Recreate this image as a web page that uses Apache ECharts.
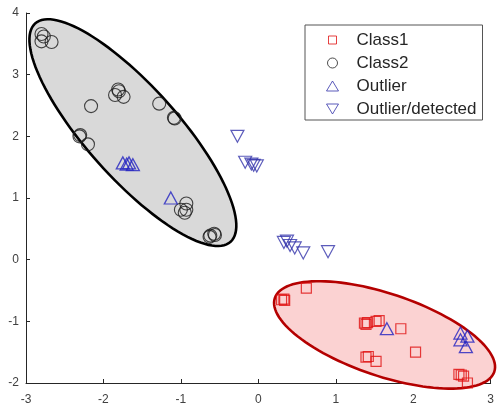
<!DOCTYPE html>
<html>
<head>
<meta charset="utf-8">
<script src="https://cdn.jsdelivr.net/npm/echarts@6/dist/echarts.min.js"></script>
<style>html,body{margin:0;padding:0;background:#fff;}#c{width:497px;height:410px;}</style>
</head>
<body>
<div id="c"></div>
<script>
// ---- data ----
var xTicks = [-3, -2, -1, 0, 1, 2, 3];
var yTicks = [-2, -1, 0, 1, 2, 3, 4];
var seriesNames = ['Class1', 'Class2', 'Outlier', 'Outlier/detected'];
var class1 = [[0.30,-0.65],[0.34,-0.66],[0.33,-0.64],[0.62,-0.46],[1.37,-1.03],[1.41,-1.02],[1.39,-1.05],[1.52,-1.00],[1.56,-0.99],[1.84,-1.12],[2.03,-1.50],[1.39,-1.58],[1.42,-1.57],[1.52,-1.65],[2.59,-1.86],[2.62,-1.87],[2.65,-1.89],[2.70,-2.00]];
var class2 = [[-2.80,3.66],[-2.77,3.62],[-2.80,3.54],[-2.67,3.53],[-2.16,2.49],[-1.81,2.76],[-1.80,2.73],[-1.85,2.67],[-1.74,2.64],[-1.28,2.53],[-1.09,2.30],[-1.08,2.29],[-2.30,2.02],[-2.31,2.00],[-2.20,1.87],[-0.93,0.91],[-1.00,0.81],[-0.93,0.81],[-0.95,0.76],[-0.62,0.39],[-0.57,0.42],[-0.63,0.37],[-0.56,0.40]];
var outlier = [[-1.75,1.57],[-1.70,1.55],[-1.67,1.57],[-1.62,1.54],[-1.13,1.00],[1.66,-1.12],[2.61,-1.19],[2.70,-1.24],[2.61,-1.30],[2.68,-1.41]];
var outlierDetected = [[-0.27,2.00],[-0.17,1.58],[-0.09,1.55],[-0.06,1.53],[-0.02,1.52],[0.33,0.28],[0.37,0.30],[0.41,0.23],[0.47,0.19],[0.58,0.11],[0.90,0.13]];
// ellipses: centre, semi-axis vectors (data units)
var ellipseCenters = [[-1.62, 2.06], [1.63, -1.22]];
var ellipseAxisA = [[1.262, -1.770], [1.417, -0.597]];
var ellipseAxisB = [[-0.438, -0.499], [-0.167, -0.634]];

// ---- chart ----
var ellipseStyles = [
  {fill:'#d9d9d9', stroke:'#000000', lineWidth:2.6},
  {fill:'#fbd2d2', stroke:'#b40000', lineWidth:2.6}
];
var ellipseData = ellipseCenters.map(function(c, i){
  return [c[0], c[1], ellipseAxisA[i][0], ellipseAxisA[i][1], ellipseAxisB[i][0], ellipseAxisB[i][1]];
});
var downTri = 'path://M0,0 L20,0 L10,18 Z';
var font = 'Liberation Sans, Arial, Helvetica, sans-serif';
var blue = '#2222c0';
var blue2 = '#3333aa';
var red = '#e01010';
var chart = echarts.init(document.getElementById('c'), null, {renderer:'canvas'});
var axisCommon = {
  type:'value', interval:1,
  axisLine:{show:true, onZero:false, lineStyle:{color:'#262626', width:1}},
  axisTick:{show:true, inside:true, length:4, lineStyle:{color:'#262626'}},
  splitLine:{show:false},
  axisLabel:{color:'#404040', fontSize:12, fontFamily:font}
};
chart.setOption({
  animation:false,
  backgroundColor:'#fff',
  grid:{left:26, right:3, top:13, bottom:27},
  xAxis: Object.assign({}, axisCommon, {min:xTicks[0], max:xTicks[xTicks.length-1], axisLabel:Object.assign({}, axisCommon.axisLabel, {margin:11})}),
  yAxis: Object.assign({}, axisCommon, {min:yTicks[0], max:yTicks[yTicks.length-1], axisLabel:Object.assign({}, axisCommon.axisLabel, {margin:7})}),
  legend:{
    orient:'vertical', left:305, top:25, padding:[5,6,1,21],
    itemWidth:38, itemHeight:12, itemGap:3,
    backgroundColor:'#fff', borderColor:'#555', borderWidth:1,
    textStyle:{fontSize:17, fontFamily:font, color:'#262626', lineHeight:20},
    data:[
      {name:seriesNames[0], icon:'path://M0,0 M12,12 M2,2 L10,2 L10,10 L2,10 Z', itemStyle:{color:'transparent', borderColor:red, borderWidth:1}},
      {name:seriesNames[1], icon:'path://M0,0 M12,12 M11,6 A5,5 0 1 1 1,6 A5,5 0 1 1 11,6 Z', itemStyle:{color:'transparent', borderColor:'#222', borderWidth:1}},
      {name:seriesNames[2], icon:'path://M0,0 M12,12 M6,1 L12,11 L0,11 Z', itemStyle:{color:'transparent', borderColor:blue2, borderWidth:1}},
      {name:seriesNames[3], icon:'path://M0,0 M12,12 M0,1 L12,1 L6,11 Z', itemStyle:{color:'transparent', borderColor:blue2, borderWidth:1}}
    ]
  },
  series:[
    {
      type:'custom', z:1, silent:true, clip:false,
      data:ellipseData,
      renderItem:function(params, api){
        var i = params.dataIndex;
        var cx = api.value(0), cy = api.value(1), ax = api.value(2), ay = api.value(3), bx = api.value(4), by = api.value(5);
        var pts = [];
        for (var k = 0; k < 120; k++) {
          var t = k / 120 * Math.PI * 2;
          pts.push(api.coord([cx + Math.cos(t)*ax + Math.sin(t)*bx, cy + Math.cos(t)*ay + Math.sin(t)*by]));
        }
        var s = ellipseStyles[i];
        return {type:'polygon', shape:{points:pts}, style:{fill:s.fill, stroke:s.stroke, lineWidth:s.lineWidth}};
      }
    },
    {name:seriesNames[0], type:'scatter', z:3, data:class1, symbol:'rect', symbolSize:10,
      itemStyle:{color:'transparent', borderColor:red, borderWidth:1.2}},
    {name:seriesNames[1], type:'scatter', z:3, data:class2, symbol:'circle', symbolSize:13,
      itemStyle:{color:'transparent', borderColor:'#1a1a1a', borderWidth:1.1}},
    {name:seriesNames[2], type:'scatter', z:3, data:outlier, symbol:'triangle', symbolSize:[13,12],
      itemStyle:{color:'transparent', borderColor:blue, borderWidth:1.3}},
    {name:seriesNames[3], type:'scatter', z:3, data:outlierDetected, symbol:downTri, symbolSize:[13,12],
      itemStyle:{color:'transparent', borderColor:blue2, borderWidth:1.2}}
  ]
});
</script>
</body>
</html>
